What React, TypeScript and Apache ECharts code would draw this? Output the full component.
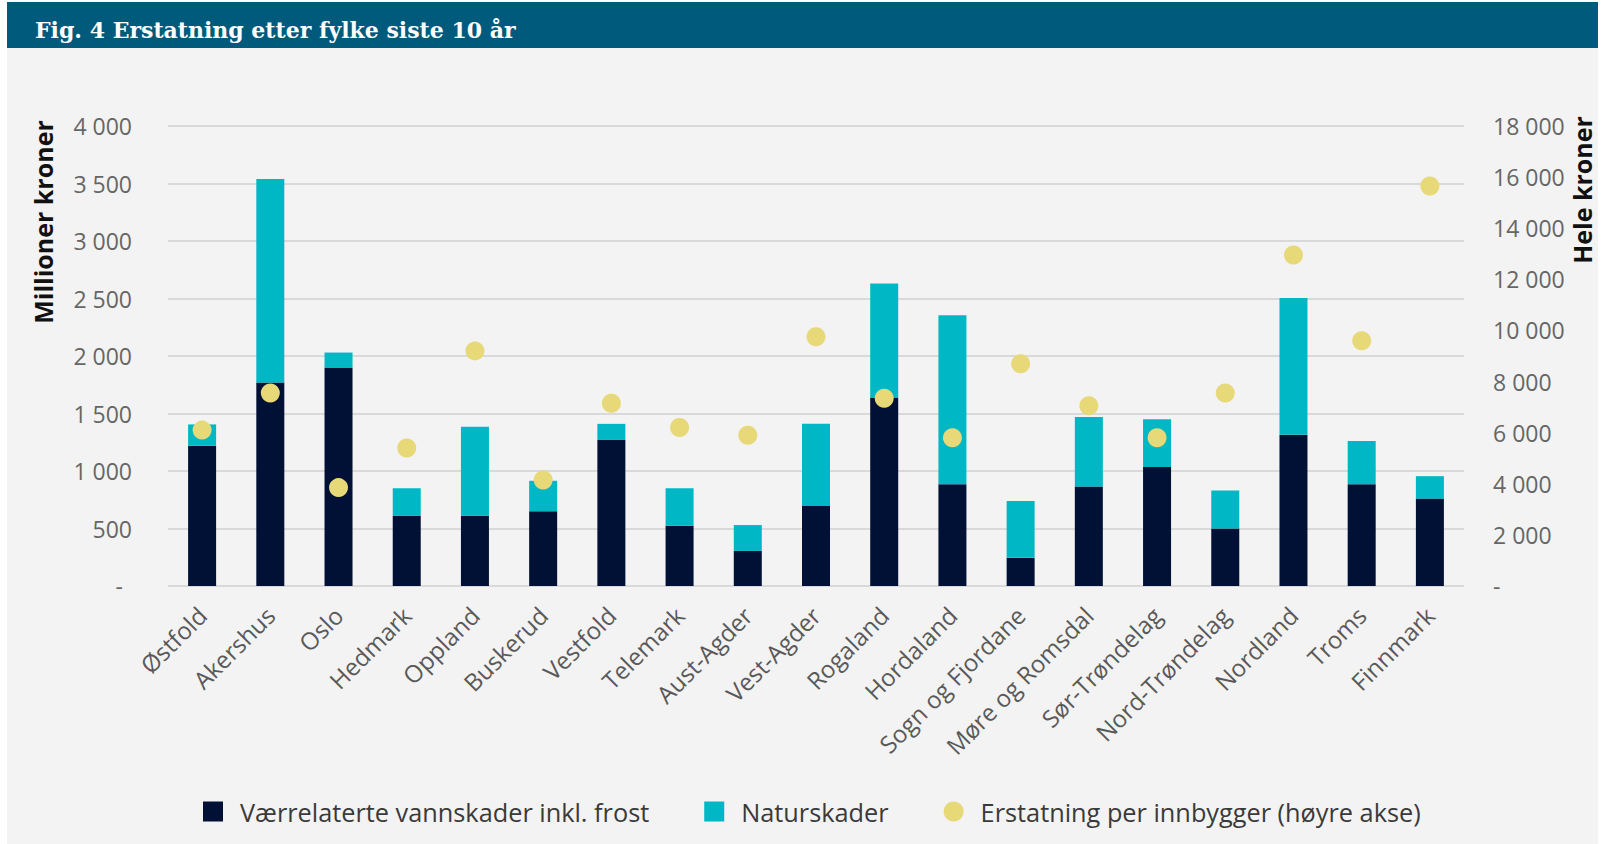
import React, { useEffect, useRef } from 'react';
import * as echarts from 'echarts';

const categories = [
  'Østfold', 'Akershus', 'Oslo', 'Hedmark', 'Oppland', 'Buskerud', 'Vestfold', 'Telemark',
  'Aust-Agder', 'Vest-Agder', 'Rogaland', 'Hordaland', 'Sogn og Fjordane', 'Møre og Romsdal',
  'Sør-Trøndelag', 'Nord-Trøndelag', 'Nordland', 'Troms', 'Finnmark',
];
const vannskader = [1220, 1770, 1900, 610, 610, 650, 1270, 525, 305, 695, 1640, 885, 245, 865, 1035, 500, 1315, 885, 760];
const naturskader = [185, 1770, 130, 240, 775, 265, 140, 325, 225, 715, 990, 1470, 495, 605, 415, 330, 1190, 375, 195];
const perInnbygger = [6100, 7550, 3850, 5400, 9200, 4150, 7150, 6200, 5900, 9750, 7350, 5800, 8700, 7050, 5800, 7550, 12950, 9600, 15650];

const seriesNames = ['Værrelaterte vannskader inkl. frost', 'Naturskader', 'Erstatning per innbygger (høyre akse)'];
const titleText = 'Fig. 4 Erstatning etter fylke siste 10 år';
const leftAxisName = 'Millioner kroner';
const rightAxisName = 'Hele kroner';

const fmt = (v: number) => String(v).replace(/\B(?=(\d{3})+(?!\d))/g, ' ');

export default function App() {
  const ref = useRef<HTMLDivElement>(null);
  useEffect(() => {
    const chart = echarts.init(ref.current as HTMLDivElement, null, { renderer: 'svg' });
    const font = '"Open Sans", sans-serif';
    chart.setOption({
      animation: false,
      backgroundColor: '#f3f3f3',
      textStyle: { fontFamily: font },
      graphic: [
        { type: 'rect', shape: { x: 0, y: 0, width: 7, height: 844 }, style: { fill: '#ffffff' }, silent: true },
        { type: 'rect', shape: { x: 1598, y: 0, width: 8, height: 844 }, style: { fill: '#ffffff' }, silent: true },
        { type: 'rect', shape: { x: 0, y: 0, width: 1606, height: 2 }, style: { fill: '#ffffff' }, silent: true },
        { type: 'rect', shape: { x: 7, y: 2, width: 1591, height: 46 }, style: { fill: '#005a7c' }, silent: true },
        {
          type: 'text', x: 35, y: 30, silent: true,
          style: { text: titleText, fill: '#ffffff', font: 'bold 22px "DejaVu Serif", serif', textVerticalAlign: 'middle' },
        },
        {
          type: 'text', x: 43, y: 222, rotation: Math.PI / 2, silent: true,
          style: { text: leftAxisName, fill: '#111111', font: 'bold 25px "Open Sans", sans-serif', textAlign: 'center', textVerticalAlign: 'middle' },
        },
        {
          type: 'text', x: 1582, y: 190, rotation: Math.PI / 2, silent: true,
          style: { text: rightAxisName, fill: '#111111', font: 'bold 25px "Open Sans", sans-serif', textAlign: 'center', textVerticalAlign: 'middle' },
        },
      ],
      legend: {
        left: 198,
        top: 794,
        itemWidth: 20,
        itemHeight: 20,
        itemGap: 55,
        textStyle: { fontSize: 25.3, color: '#3a3a3a', fontFamily: font, padding: [0, 0, 0, 12] },
        data: [
          { name: seriesNames[0], icon: 'rect' },
          { name: seriesNames[1], icon: 'rect' },
          { name: seriesNames[2], icon: 'circle' },
        ],
      },
      grid: { left: 168, right: 142, top: 126, bottom: 258, containLabel: false },
      xAxis: {
        type: 'category',
        data: categories,
        axisTick: { show: false },
        axisLine: { show: false },
        axisLabel: { rotate: 45, interval: 0, fontSize: 24, color: '#595959', margin: 25, fontFamily: font },
      },
      yAxis: [
        {
          type: 'value', min: 0, max: 4000, interval: 500,
          axisLine: { show: false }, axisTick: { show: false },
          splitLine: { lineStyle: { color: '#d9d9d9', width: 2 } },
          axisLabel: {
            margin: 36, fontSize: 23, color: '#666666', fontFamily: font,
            formatter: (v: number) => (v === 0 ? '{d|-}' : fmt(v)),
            rich: { d: { fontSize: 23, color: '#666666', padding: [0, 9, 0, 0] } },
          },
        },
        {
          type: 'value', min: 0, max: 18000, interval: 2000,
          axisLine: { show: false }, axisTick: { show: false },
          splitLine: { show: false },
          axisLabel: {
            margin: 29, fontSize: 23, color: '#666666', fontFamily: font,
            formatter: (v: number) => (v === 0 ? '-' : fmt(v)),
          },
        },
      ],
      series: [
        {
          name: seriesNames[0], type: 'bar', stack: 'total', barWidth: 28,
          itemStyle: { color: '#001135' }, data: vannskader,
        },
        {
          name: seriesNames[1], type: 'bar', stack: 'total', barWidth: 28,
          itemStyle: { color: '#00b8c5' }, data: naturskader,
        },
        {
          name: seriesNames[2], type: 'scatter', yAxisIndex: 1, symbolSize: 19, z: 5,
          itemStyle: { color: '#e7d878', opacity: 1 }, data: perInnbygger,
        },
      ],
    });
    return () => chart.dispose();
  }, []);
  return <div ref={ref} style={{ position: 'fixed', left: 0, top: 0, width: 1606, height: 844 }} />;
}
